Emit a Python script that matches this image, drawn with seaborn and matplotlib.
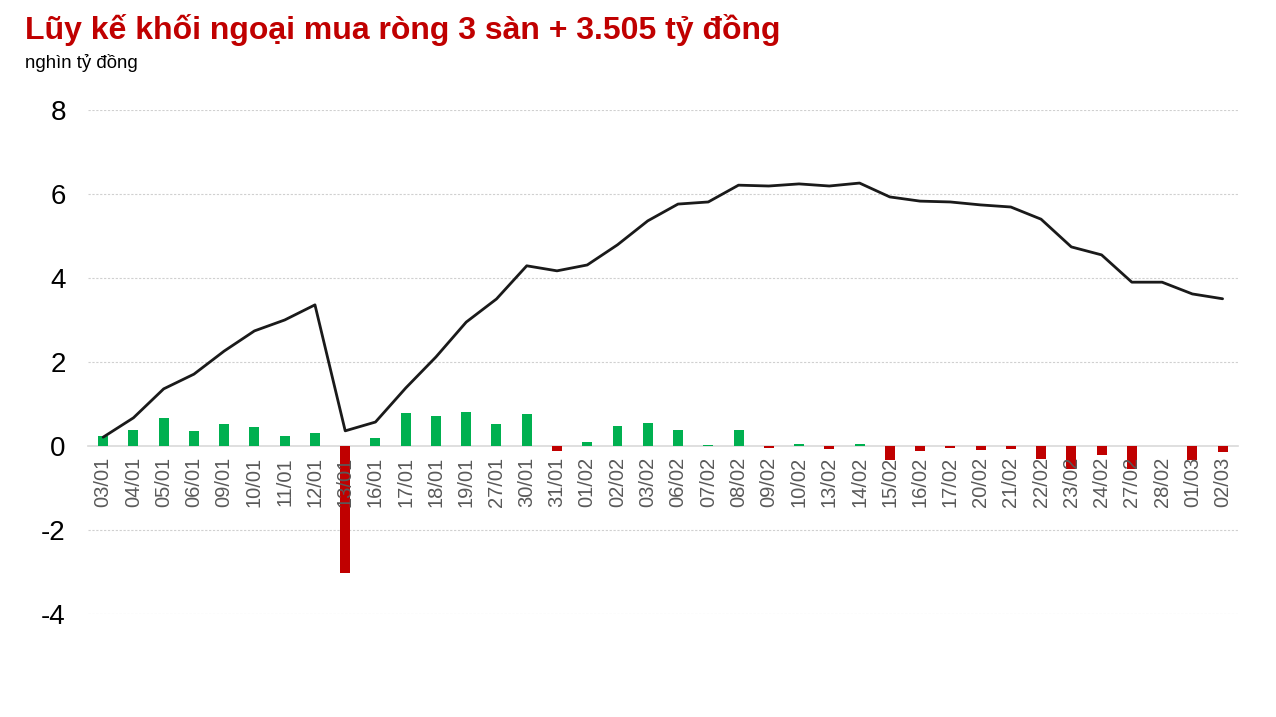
import numpy as np
import pandas as pd
import matplotlib
matplotlib.use('Agg')
import matplotlib.pyplot as plt
import seaborn as sns

# dữ liệu
dates = ['03/01', '04/01', '05/01', '06/01', '09/01', '10/01', '11/01', '12/01', '13/01', '16/01',
         '17/01', '18/01', '19/01', '27/01', '30/01', '31/01', '01/02', '02/02', '03/02', '06/02',
         '07/02', '08/02', '09/02', '10/02', '13/02', '14/02', '15/02', '16/02', '17/02', '20/02',
         '21/02', '22/02', '23/02', '24/02', '27/02', '28/02', '01/03', '02/03']
daily_net = [0.24, 0.38, 0.67, 0.36, 0.52, 0.45, 0.24, 0.31, -3.02, 0.19,
             0.79, 0.71, 0.81, 0.52, 0.76, -0.13, 0.10, 0.48, 0.55, 0.38,
             0.02, 0.38, -0.04, 0.05, -0.07, 0.05, -0.33, -0.12, -0.04, -0.10,
             -0.07, -0.31, -0.55, -0.21, -0.55, 0.0, -0.33, -0.14]
cumulative = [0.21, 0.67, 1.36, 1.71, 2.26, 2.74, 3.00, 3.36, 0.36, 0.57,
              1.38, 2.12, 2.95, 3.50, 4.29, 4.17, 4.31, 4.79, 5.36, 5.76,
              5.81, 6.21, 6.19, 6.24, 6.19, 6.26, 5.93, 5.83, 5.81, 5.74,
              5.69, 5.40, 4.74, 4.55, 3.90, 3.90, 3.62, 3.505]

title = 'Lũy kế khối ngoại mua ròng 3 sàn + 3.505 tỷ đồng'
unit = 'nghìn tỷ đồng'

GREEN = '#00B050'
RED = '#C00000'

sns.set_style('white')
plt.rcParams['font.family'] = ['Liberation Sans', 'DejaVu Sans']

df = pd.DataFrame({'date': dates, 'net': daily_net, 'cum': cumulative})
df['sign'] = np.where(df['net'] >= 0, 'mua', 'ban')
df['pos'] = np.arange(len(df))

fig = plt.figure(figsize=(12.76, 7.17), dpi=100)
ax = fig.add_axes([0.069, 0.1437, 0.901, 0.7029])

sns.barplot(data=df, x='date', y='net', hue='sign', palette={'mua': GREEN, 'ban': RED},
            dodge=False, width=0.33, saturation=1, linewidth=0, legend=False, ax=ax)
for p in ax.patches:
    p.set_zorder(1.5)
sns.lineplot(data=df, x='pos', y='cum', color='#1a1a1a', linewidth=2.0, ax=ax, zorder=4)

ax.set_ylim(-4, 8)
ax.set_xlim(-0.5, len(df) - 0.5)
ax.set_yticks([-4, -2, 0, 2, 4, 6, 8])
ax.set_yticklabels(['-4', '-2', '0', '2', '4', '6', '8'])
ax.set_xticks(df['pos'])
ax.set_xticklabels(dates)
ax.set_xlabel('')
ax.set_ylabel('')

# trục hoành nằm tại 0
for s in ['top', 'right', 'left']:
    ax.spines[s].set_visible(False)
ax.spines['bottom'].set_position(('data', 0))
ax.spines['bottom'].set_color('#d9d9d9')
ax.spines['bottom'].set_linewidth(1.2)
ax.spines['bottom'].set_zorder(1)
ax.xaxis.set_zorder(5)
ax.tick_params(axis='x', length=0, pad=8, labelrotation=90, labelsize=14.5, labelcolor='#595959')
ax.tick_params(axis='y', length=0, pad=16, labelsize=20, labelcolor='black')

for yv in [-4, -2, 2, 4, 6, 8]:
    ax.axhline(yv, color='#d0d0d0', linewidth=0.8, linestyle=(0, (2, 1.5)), zorder=1)

fig.text(0.0196, 0.945, title, fontsize=23, fontweight='bold', color=RED, va='baseline')
fig.text(0.0196, 0.905, unit, fontsize=13.4, color='black', va='baseline')

fig.savefig('out.png', dpi=100)
